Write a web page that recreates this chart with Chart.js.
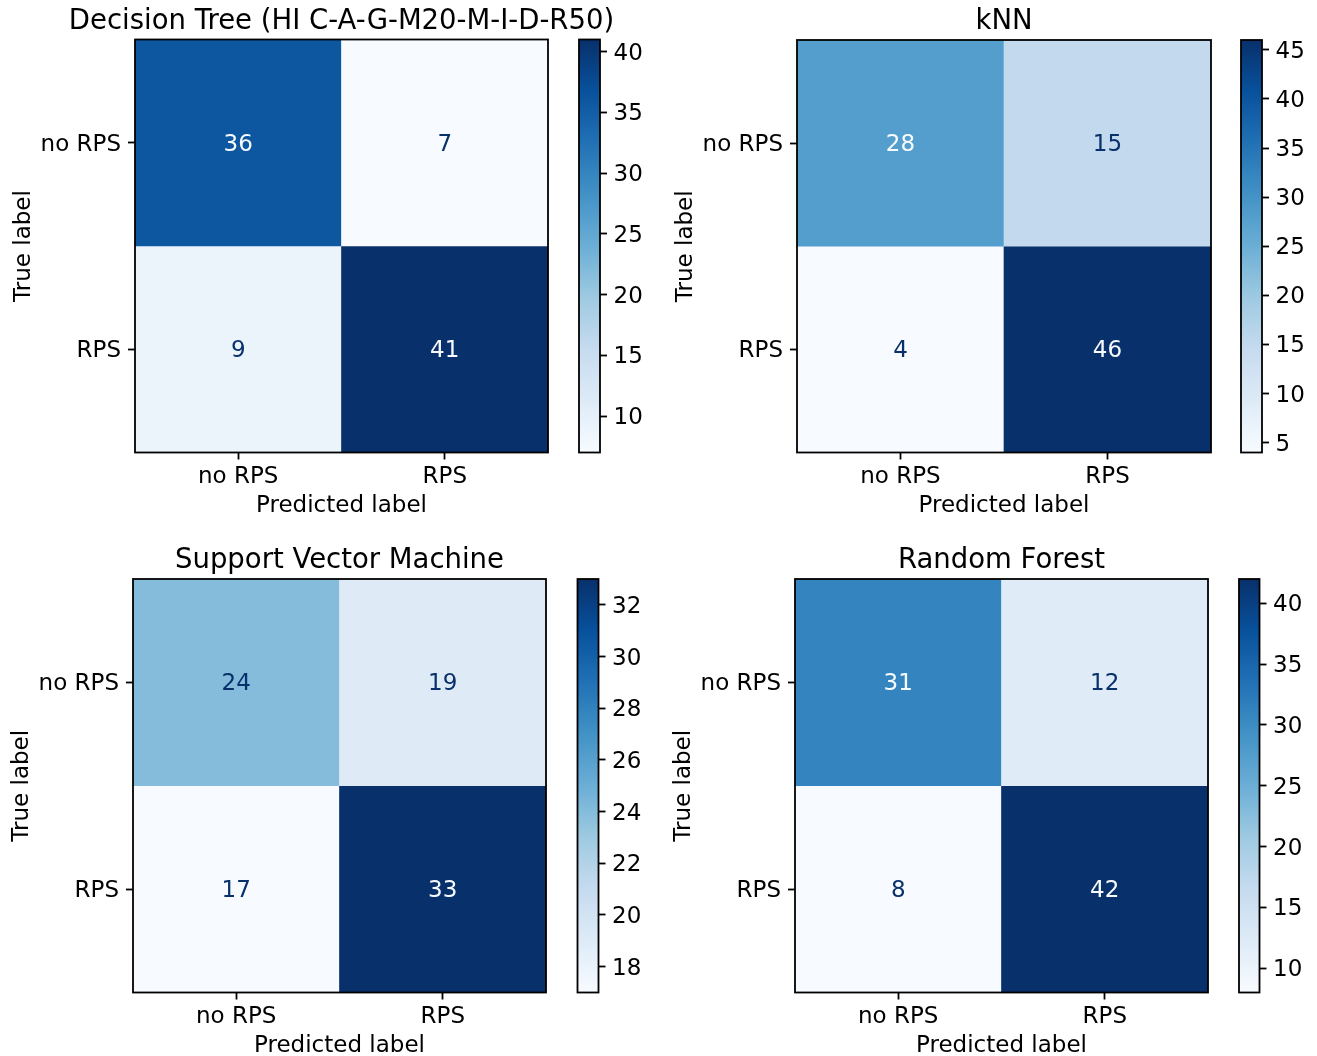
<!DOCTYPE html>
<html><head><meta charset="utf-8">
<script src="https://cdn.jsdelivr.net/npm/chart.js@4/dist/chart.umd.min.js"></script>
<style>
html,body{margin:0;padding:0;background:#fff;overflow:hidden;width:1317px;height:1056px;position:relative;}
canvas{position:absolute;}
</style></head><body>
<script>
// ---------------- data ----------------
const categories = ['no RPS', 'RPS'];
const titles = ['Decision Tree (HI C-A-G-M20-M-I-D-R50)', 'kNN', 'Support Vector Machine', 'Random Forest'];
const dtValues  = [[36, 7], [9, 41]];
const knnValues = [[28, 15], [4, 46]];
const svmValues = [[24, 19], [17, 33]];
const rfValues  = [[31, 12], [8, 42]];
const dtTicks  = [10, 15, 20, 25, 30, 35, 40];
const knnTicks = [5, 10, 15, 20, 25, 30, 35, 40, 45];
const svmTicks = [18, 20, 22, 24, 26, 28, 30, 32];
const rfTicks  = [10, 15, 20, 25, 30, 35, 40];
const xAxisTitle = 'Predicted label';
const yAxisTitle = 'True label';

// ---------------- layout / style ----------------
const FONT = "'DejaVu Sans', 'Liberation Sans', sans-serif";
const TICK_SIZE = 23, TITLE_SIZE = 27.5;
const layout = [
  {cl: 0,   ct: 0,   plot: {l: 135, t: 39.5, r: 548,    b: 452.5}, cb: [579, 600]},
  {cl: 660, ct: 0,   plot: {l: 797, t: 40,   r: 1210.5, b: 452.5}, cb: [1241, 1262]},
  {cl: 0,   ct: 530, plot: {l: 133, t: 579,  r: 546,    b: 992.5}, cb: [577.5, 598.5]},
  {cl: 660, ct: 530, plot: {l: 795, t: 579,  r: 1208,   b: 992.5}, cb: [1239, 1259.5]}
];
const CH = 540;
const TEXT_DY = 2;  // baseline correction for 'middle' text
const BLUES = ['#f7fbff','#deebf7','#c6dbef','#9ecae1','#6baed6','#4292c6','#2171b5','#08519c','#08306b'];
function hex2rgb(h){return [parseInt(h.slice(1,3),16),parseInt(h.slice(3,5),16),parseInt(h.slice(5,7),16)];}
function blues(t){
  t = Math.max(0, Math.min(1, t));
  const n = BLUES.length - 1, p = t * n, i = Math.min(n - 1, Math.floor(p)), f = p - i;
  const a = hex2rgb(BLUES[i]), b = hex2rgb(BLUES[i+1]);
  return 'rgb(' + a.map((v,k)=>Math.round(v + (b[k]-v)*f)).join(',') + ')';
}
const DARK = '#08306b', LIGHT = '#f7fbff';

Chart.defaults.font.family = FONT;
Chart.defaults.color = '#000';

function addCanvas(left, top, w, h){
  const c = document.createElement('canvas');
  c.width = w; c.height = h;
  c.style.left = left + 'px'; c.style.top = top + 'px';
  c.style.width = w + 'px'; c.style.height = h + 'px';
  document.body.appendChild(c);
  return c;
}

const framePlugin = {
  id: 'frame',
  afterDatasetsDraw(chart){
    const a = chart.chartArea, ctx = chart.ctx;
    ctx.save();
    ctx.strokeStyle = '#000'; ctx.lineWidth = 1.8;
    ctx.strokeRect(a.left, a.top, a.right - a.left, a.bottom - a.top);
    ctx.restore();
  }
};

function makeMatrix(idx, values){
  const L = layout[idx], P = L.plot;
  const yW = P.l - L.cl;                 // left axis width
  const cw = Math.ceil(P.r - L.cl + yW); // symmetric so the title centres on the plot
  const canvas = addCanvas(L.cl, L.ct, cw, CH);
  const flat = values.flat();
  const vmin = Math.min(...flat), vmax = Math.max(...flat);
  const thresh = (vmin + vmax) / 2;
  const lineH = TICK_SIZE * 1.2, tLineH = TITLE_SIZE * 1.2;
  const datasets = categories.map((rowLab, r) => ({
    label: rowLab,
    data: categories.map(() => [r - 0.5, r + 0.5]),
    backgroundColor: values[r].map(v => blues((v - vmin) / (vmax - vmin))),
    borderWidth: 0,
    grouped: false,
    barPercentage: 1,
    categoryPercentage: 1
  }));
  const textPlugin = {
    id: 'cellText',
    afterDatasetsDraw(chart){
      const ctx = chart.ctx, xs = chart.scales.x, ys = chart.scales.y;
      ctx.save();
      ctx.font = TICK_SIZE + 'px ' + FONT;
      ctx.textAlign = 'center'; ctx.textBaseline = 'middle';
      values.forEach((row, r) => row.forEach((v, c) => {
        ctx.fillStyle = v < thresh ? DARK : LIGHT;
        ctx.fillText(String(v), xs.getPixelForValue(c), ys.getPixelForValue(r) + TEXT_DY);
      }));
      ctx.restore();
    }
  };
  const titlePadBottom = 1.5;
  const titlePadTop = (P.t - L.ct) - tLineH - titlePadBottom;
  const xTitlePadBottom = (L.ct + CH) - lineH / 2 - (P.b + 53.7);
  const yTitlePadTop = (P.l - 110.5 - L.cl) - lineH / 2;
  new Chart(canvas, {
    type: 'bar',
    data: {labels: categories, datasets},
    options: {
      responsive: false, animation: false, devicePixelRatio: 1,
      layout: {padding: 0},
      plugins: {
        legend: {display: false}, tooltip: {enabled: false},
        title: {display: true, text: titles[idx], fullSize: true, color: '#000',
          font: {size: TITLE_SIZE, weight: 'normal', lineHeight: 1.2, family: FONT},
          padding: {top: titlePadTop, bottom: titlePadBottom}}
      },
      scales: {
        x: {
          type: 'category', offset: true,
          grid: {display: true, drawOnChartArea: false, drawTicks: true, tickLength: 7, tickWidth: 1.8, tickColor: '#000', offset: false},
          border: {display: false},
          ticks: {color: '#000', font: {size: TICK_SIZE, lineHeight: 1.2}, padding: 2 + TEXT_DY, maxRotation: 0, autoSkip: false},
          title: {display: true, text: xAxisTitle, color: '#000', font: {size: TICK_SIZE, lineHeight: 1.2}, padding: {top: 0, bottom: xTitlePadBottom}},
          afterFit: s => { s.height = (L.ct + CH) - P.b; }
        },
        y: {
          type: 'linear', min: -0.5, max: 1.5, reverse: true,
          afterBuildTicks: s => { s.ticks = categories.map((_, i) => ({value: i})); },
          grid: {display: true, drawOnChartArea: false, drawTicks: true, tickLength: 7, tickWidth: 1.8, tickColor: '#000'},
          border: {display: false},
          ticks: {color: '#000', font: {size: TICK_SIZE, lineHeight: 1.2}, padding: 7, autoSkip: false, labelOffset: TEXT_DY,
            callback: v => categories[v]},
          title: {display: true, text: yAxisTitle, color: '#000', font: {size: TICK_SIZE, lineHeight: 1.2}, padding: {top: yTitlePadTop, bottom: 0}},
          afterFit: s => { s.width = yW; }
        },
        yPad: {
          type: 'linear', position: 'right', display: true,
          grid: {display: false}, border: {display: false}, ticks: {display: false},
          afterFit: s => { s.width = yW; }
        }
      }
    },
    plugins: [framePlugin, textPlugin]
  });
}

function makeColorbar(idx, values, ticks){
  const L = layout[idx], P = L.plot;
  const left = Math.floor(L.cb[0] - 6);
  const labelW = 70;
  const cw = Math.ceil(L.cb[1] - left + labelW);
  const canvas = addCanvas(left, L.ct, cw, CH);
  const flat = values.flat();
  const vmin = Math.min(...flat), vmax = Math.max(...flat);
  new Chart(canvas, {
    type: 'bar',
    data: {labels: ['colorbar'], datasets: [{
      data: [[vmin, vmax]],
      borderWidth: 0, barPercentage: 1, categoryPercentage: 1,
      backgroundColor: (ctx) => {
        const chart = ctx.chart, ys = chart.scales && chart.scales.y;
        if (!ys) return BLUES[4];
        const y0 = ys.getPixelForValue(vmin), y1 = ys.getPixelForValue(vmax);
        if (!isFinite(y0) || !isFinite(y1) || y0 === y1) return BLUES[4];
        const g = chart.ctx.createLinearGradient(0, y0, 0, y1);
        BLUES.forEach((c, i) => g.addColorStop(i / (BLUES.length - 1), c));
        return g;
      }
    }]},
    options: {
      responsive: false, animation: false, devicePixelRatio: 1,
      layout: {padding: {left: L.cb[0] - left, top: P.t - L.ct, right: 0, bottom: (L.ct + CH) - P.b}},
      plugins: {legend: {display: false}, tooltip: {enabled: false}, title: {display: false}},
      scales: {
        x: {display: false, offset: true},
        y: {
          type: 'linear', position: 'right', min: vmin, max: vmax,
          afterBuildTicks: s => { s.ticks = ticks.map(v => ({value: v})); },
          grid: {display: true, drawOnChartArea: false, drawTicks: true, tickLength: 7, tickWidth: 1.8, tickColor: '#000'},
          border: {display: false},
          ticks: {color: '#000', font: {size: TICK_SIZE, lineHeight: 1.2}, padding: 6.5, autoSkip: false, labelOffset: TEXT_DY},
          afterFit: s => { s.width = cw - (L.cb[1] - left); }
        }
      }
    },
    plugins: [framePlugin]
  });
}

const allValues = [dtValues, knnValues, svmValues, rfValues];
const allTicks = [dtTicks, knnTicks, svmTicks, rfTicks];
allValues.forEach((v, i) => { makeMatrix(i, v); makeColorbar(i, v, allTicks[i]); });
</script>
</body></html>
